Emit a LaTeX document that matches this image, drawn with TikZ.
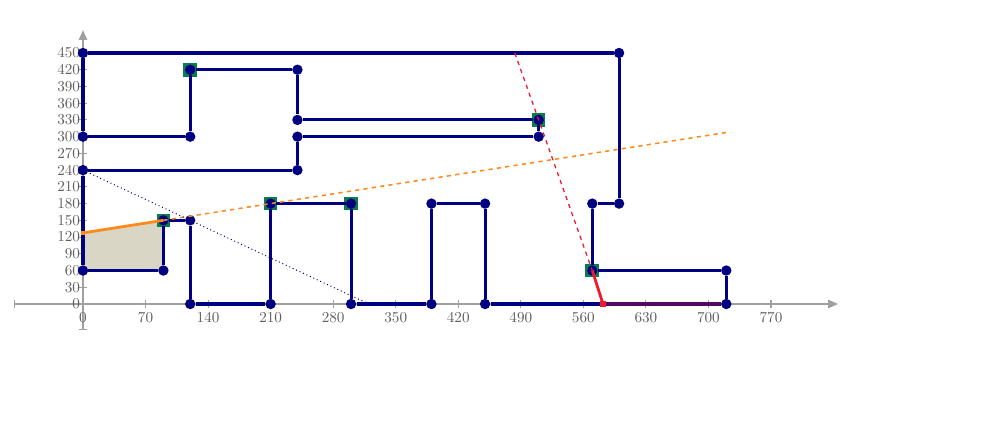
\documentclass[tikz,border=0pt]{standalone}
\usepackage{xcolor}
\usepackage{tikz}
\usetikzlibrary{arrows.meta}
\usetikzlibrary{calc, positioning}

\definecolor{navyline}{HTML}{000080}
\definecolor{hitgreen}{HTML}{0B7D4C}
\definecolor{cutorange}{HTML}{FF8A1C}
\definecolor{cutred}{HTML}{F0192E}
\definecolor{areafill}{HTML}{D9D6C6}
\definecolor{axisgray}{HTML}{A0A0A0}
\definecolor{labelgray}{HTML}{5E5E5E}

\begin{document}
\begin{tikzpicture}[x=0.022337cm,y=0.013944cm,
                    main node/.style={circle,fill=navyline,inner sep=0pt,minimum size=0.26cm},
                    hit node/.style={rectangle,fill=hitgreen,inner sep=0pt,minimum size=0.34cm},
                    route/.style={draw=navyline,line width=2.2pt},
                    axis/.style={draw=axisgray,line width=0.8pt},
                    ticklabel/.style={font=\fontsize{10.8}{11}\selectfont,text=labelgray,inner sep=0pt}]

  \useasboundingbox (-92.9,-229.5) rectangle (1025.2,545.0);

  % axes
  \coordinate (xl) at (-77,0);
  \coordinate (xr) at (845,0);
  \coordinate (yb) at (0,-47);
  \coordinate (yt) at (0,491);
  \draw[axis,{Bar[width=6pt]}-{Triangle[length=7pt,width=6pt]}] (xl) -- (xr);
  \draw[axis,{Bar[width=6pt]}-{Triangle[length=7pt,width=6pt]}] (yb) -- (yt);
  \foreach \t in {0,70,...,770} {
    \draw[axis] (\t,-7) -- (\t,7);
    \node[ticklabel,anchor=north] at (\t,-15) {\t};
  }
  \foreach \t in {0,30,...,450} {
    \draw[axis] (-4,\t) -- (4,\t);
    \node[ticklabel,anchor=east] at (-3,\t) {\t};
  }

  % shaded part
  \fill[areafill] (0,60) -- (90,60) -- (90,150) -- (0,127.5) -- cycle;

  % hits
  \node[hit node] (h1) at (120,420) {};
  \node[hit node] (h2) at (90,150) {};
  \node[hit node] (h3) at (210,180) {};
  \node[hit node] (h4) at (300,180) {};
  \node[hit node] (h5) at (510,330) {};
  \node[hit node] (h6) at (570,60) {};

  % outline
  \node[main node] (1) at (0,450) {};
  \node[main node] (2) at (600,450) {};
  \node[main node] (3) at (600,180) {};
  \node[main node] (4) at (570,180) {};
  \node[main node] (5) at (570,60) {};
  \node[main node] (6) at (720,60) {};
  \node[main node] (7) at (720,0) {};
  \node[main node] (8) at (450,0) {};
  \node[main node] (9) at (450,180) {};
  \node[main node] (10) at (390,180) {};
  \node[main node] (11) at (390,0) {};
  \node[main node] (12) at (300,0) {};
  \node[main node] (13) at (300,180) {};
  \node[main node] (14) at (210,180) {};
  \node[main node] (15) at (210,0) {};
  \node[main node] (16) at (120,0) {};
  \node[main node] (17) at (120,150) {};
  \node[main node] (18) at (90,150) {};
  \node[main node] (19) at (90,60) {};
  \node[main node] (20) at (0,60) {};
  \node[main node] (21) at (0,240) {};
  \node[main node] (22) at (240,240) {};
  \node[main node] (23) at (240,300) {};
  \node[main node] (24) at (510,300) {};
  \node[main node] (25) at (510,330) {};
  \node[main node] (26) at (240,330) {};
  \node[main node] (27) at (240,420) {};
  \node[main node] (28) at (120,420) {};
  \node[main node] (29) at (120,300) {};
  \node[main node] (30) at (0,300) {};

  \path[route]
    (1) edge (2)
    (2) edge (3)
    (3) edge (4)
    (4) edge (5)
    (5) edge (6)
    (6) edge (7)
    (7) edge (8)
    (8) edge (9)
    (9) edge (10)
    (10) edge (11)
    (11) edge (12)
    (12) edge (13)
    (13) edge (14)
    (14) edge (15)
    (15) edge (16)
    (16) edge (17)
    (17) edge (18)
    (18) edge (19)
    (19) edge (20)
    (20) edge (21)
    (21) edge (22)
    (22) edge (23)
    (23) edge (24)
    (24) edge (25)
    (25) edge (26)
    (26) edge (27)
    (27) edge (28)
    (28) edge (29)
    (29) edge (30)
    (30) edge (1);

  % cut lines
  \node[rectangle,fill=cutorange,inner sep=0pt,minimum width=0.12cm,minimum height=0.1cm] (o1) at (0,127.5) {};
  \coordinate (o2) at (720,307.5);
  \draw[cutorange,line width=2pt] (o1.center) -- (18.center);
  \draw[cutorange,line width=1.1pt,dashed] (18.center) -- (o2);

  \node[rectangle,fill=cutred,inner sep=0pt,minimum size=0.16cm] (r1) at (582,0) {};
  \coordinate (r0) at (483.3,450);
  \draw[cutred,line width=0.9pt,dashed] (r0) -- (5.center);
  \draw[cutred,line width=2pt] (5.center) -- (r1.center);
  \draw[cutred,line width=2.2pt,opacity=0.35] (r1.center) -- (7);

  \coordinate (b0) at (320,0);
  \draw[navyline,line width=0.7pt,dotted] (21.center) -- (b0);
\end{tikzpicture}
\end{document}
